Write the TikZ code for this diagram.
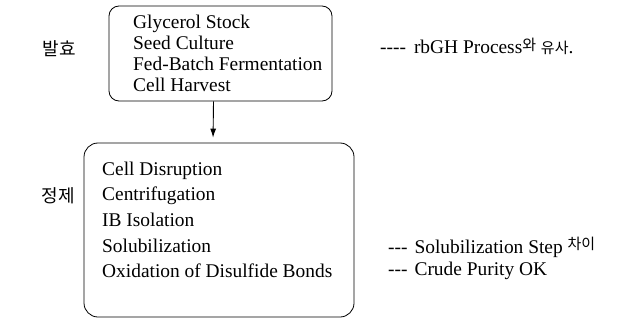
\documentclass[tikz,border=0pt]{standalone}
\usepackage{fontspec}
\setmainfont{Liberation Serif}
\newfontfamily\kr{Noto Sans CJK KR}
\usetikzlibrary{arrows.meta}
\newcommand\hy{-\kern0pt}
\newcommand\krs[1]{{\kr\fontsize{15}{15}\selectfont #1}}

\begin{document}
\begin{tikzpicture}[x=1pt,y=-1pt,
  box/.style={draw, line width=0.8pt, inner sep=0pt},
  item/.style={anchor=base west, inner sep=0pt, font=\fontsize{19.4}{19.4}\selectfont},
  side/.style={anchor=center, inner sep=0pt, font=\kr\fontsize{18}{18}\selectfont}]
  \useasboundingbox (0,0) rectangle (623,334);
  % boxes
  \node[box, rounded corners=10pt, minimum width=223pt, minimum height=95pt] (ferm) at (220.5,53.5) {};
  \node[box, rounded corners=14pt, minimum width=270pt, minimum height=174pt] (purif) at (219,230) {};
  \draw[line width=0.9pt, -{Latex[length=9pt,width=6pt]}, shorten >=5pt]
    ([xshift=-7pt]ferm.south) -- ([xshift=-6pt]purif.north);
  % stage labels
  \node[side] (fermlab) at (59,49) {발효};
  \node[side] (puriflab) at (58,196) {정제};
  % upstream steps
  \node[item] (gly) at (133,29) {Glycerol Stock};
  \node[item] (seed) at (133,50) {Seed Culture};
  \node[item] (fed) at (133,71) {Fed-Batch Fermentation};
  \node[item] (harv) at (133,92) {Cell Harvest};
  % downstream steps
  \node[item] (disr) at (102,175) {Cell Disruption};
  \node[item] (cent) at (102,200) {Centrifugation};
  \node[item] (ib) at (102,226) {IB Isolation};
  \node[item] (solu) at (102,252) {Solubilization};
  \node[item] (oxid) at (102,277) {Oxidation of Disulfide Bonds};
  % remarks
  \node[item] (note1) at (380,54) {\hy\hy\hy\hy\hspace{8pt}rbGH Process\raisebox{3pt}{\krs{와}} \krs{유사}.};
  \node[item] (note2) at (388,253) {\hy\hy\hy\hspace{7pt}Solubilization Step \raisebox{4pt}{\krs{차이}}};
  \node[item] (note3) at (388,275) {\hy\hy\hy\hspace{7pt}Crude Purity OK};
\end{tikzpicture}
\end{document}
